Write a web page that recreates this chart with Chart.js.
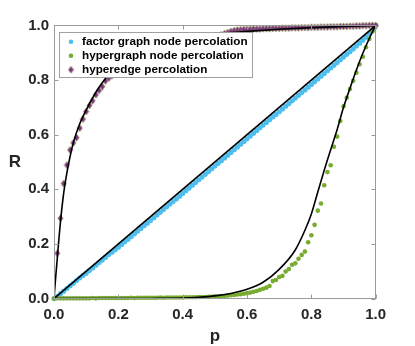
<!DOCTYPE html>
<html>
<head>
<meta charset="utf-8">
<script src="https://cdn.jsdelivr.net/npm/chart.js@4.4.1/dist/chart.umd.min.js"></script>
<style>
  html, body { margin: 0; padding: 0; background: #ffffff; }
</style>
</head>
<body>
<canvas id="chart" width="415" height="346"></canvas>
<script>
// sampled occupation probabilities
const pGrid = [
  0.00, 0.01, 0.02, 0.03, 0.04, 0.05, 0.06, 0.07, 0.08, 0.09,
  0.10, 0.11, 0.12, 0.13, 0.14, 0.15, 0.16, 0.17, 0.18, 0.19,
  0.20, 0.21, 0.22, 0.23, 0.24, 0.25, 0.26, 0.27, 0.28, 0.29,
  0.30, 0.31, 0.32, 0.33, 0.34, 0.35, 0.36, 0.37, 0.38, 0.39,
  0.40, 0.41, 0.42, 0.43, 0.44, 0.45, 0.46, 0.47, 0.48, 0.49,
  0.50, 0.51, 0.52, 0.53, 0.54, 0.55, 0.56, 0.57, 0.58, 0.59,
  0.60, 0.61, 0.62, 0.63, 0.64, 0.65, 0.66, 0.67, 0.68, 0.69,
  0.70, 0.71, 0.72, 0.73, 0.74, 0.75, 0.76, 0.77, 0.78, 0.79,
  0.80, 0.81, 0.82, 0.83, 0.84, 0.85, 0.86, 0.87, 0.88, 0.89,
  0.90, 0.91, 0.92, 0.93, 0.94, 0.95, 0.96, 0.97, 0.98, 0.99, 1.00
];

const factorGraphR = [
  0.000, 0.008, 0.018, 0.027, 0.037, 0.047, 0.056, 0.066, 0.076, 0.085,
  0.093, 0.103, 0.112, 0.122, 0.132, 0.141, 0.151, 0.161, 0.170, 0.179,
  0.188, 0.198, 0.208, 0.217, 0.227, 0.237, 0.247, 0.257, 0.267, 0.276,
  0.286, 0.296, 0.306, 0.316, 0.326, 0.336, 0.346, 0.355, 0.365, 0.375,
  0.385, 0.395, 0.405, 0.415, 0.425, 0.435, 0.445, 0.455, 0.465, 0.475,
  0.485, 0.495, 0.505, 0.515, 0.525, 0.535, 0.545, 0.555, 0.565, 0.575,
  0.585, 0.595, 0.605, 0.615, 0.625, 0.635, 0.645, 0.655, 0.665, 0.674,
  0.684, 0.694, 0.704, 0.714, 0.724, 0.734, 0.744, 0.754, 0.764, 0.774,
  0.784, 0.794, 0.804, 0.814, 0.824, 0.834, 0.844, 0.854, 0.864, 0.874,
  0.884, 0.894, 0.904, 0.914, 0.925, 0.935, 0.946, 0.957, 0.969, 0.982, 1.000
];

const hypergraphNodeR = [
  0.000, 0.001, 0.001, 0.001, 0.001, 0.001, 0.001, 0.001, 0.001, 0.001,
  0.001, 0.001, 0.002, 0.001, 0.002, 0.002, 0.002, 0.002, 0.002, 0.002,
  0.002, 0.002, 0.002, 0.002, 0.003, 0.002, 0.003, 0.003, 0.003, 0.003,
  0.003, 0.003, 0.003, 0.004, 0.003, 0.004, 0.004, 0.004, 0.004, 0.004,
  0.004, 0.005, 0.005, 0.005, 0.005, 0.006, 0.006, 0.006, 0.007, 0.007,
  0.008, 0.008, 0.009, 0.010, 0.011, 0.012, 0.013, 0.015, 0.016, 0.018,
  0.020, 0.022, 0.025, 0.028, 0.032, 0.036, 0.040, 0.046, 0.064, 0.068,
  0.079, 0.083, 0.099, 0.108, 0.124, 0.129, 0.146, 0.160, 0.172, 0.206,
  0.232, 0.270, 0.322, 0.348, 0.415, 0.463, 0.488, 0.556, 0.593, 0.650,
  0.704, 0.735, 0.767, 0.797, 0.827, 0.858, 0.885, 0.920, 0.950, 0.978, 1.000
];

const hyperedgeR = [
  null,  0.166, 0.294, 0.421, 0.489, 0.544, 0.570, 0.589, 0.624, 0.657,
  0.685, 0.707, 0.724, 0.746, 0.762, 0.776, 0.797, 0.807, 0.816, 0.825,
  0.833, 0.841, 0.849, 0.856, 0.863, 0.870, 0.876, 0.882, 0.888, 0.893,
  0.897, 0.901, 0.905, 0.909, 0.913, 0.917, 0.921, 0.925, 0.928, 0.932,
  0.935, 0.938, 0.941, 0.944, 0.947, 0.950, 0.953, 0.955, 0.957, 0.959,
  0.961, 0.963, 0.966, 0.970, 0.974, 0.978, 0.981, 0.983, 0.984, 0.985,
  0.986, 0.986, 0.987, 0.987, 0.987, 0.988, 0.988, 0.988, 0.989, 0.989,
  0.989, 0.990, 0.990, 0.990, 0.991, 0.991, 0.991, 0.992, 0.992, 0.992,
  0.993, 0.993, 0.993, 0.994, 0.994, 0.994, 0.995, 0.995, 0.995, 0.996,
  0.996, 0.996, 0.997, 0.997, 0.998, 0.998, 0.999, 0.999, 1.000, 1.000, 1.000
];

// theory curves (black lines)
const factorTheoryP = [0, 1];
const factorTheoryR = [0, 1];

const nodeTheoryP = [0, 0.2, 0.3, 0.4, 0.45, 0.5, 0.55, 0.6, 0.65, 0.7, 0.75, 0.78,
  0.8, 0.82, 0.84, 0.86, 0.88, 0.9, 0.92, 0.94, 0.96, 0.98, 1.0];
const nodeTheoryR = [0, 0, 0.0005, 0.002, 0.005, 0.01, 0.019, 0.034, 0.06, 0.107, 0.178, 0.25,
  0.31, 0.39, 0.47, 0.545, 0.618, 0.7, 0.77, 0.837, 0.898, 0.952, 1.0];

const edgeTheoryP = [0, 0.002, 0.005, 0.01, 0.015, 0.02, 0.03, 0.04, 0.05, 0.06, 0.08,
  0.10, 0.12, 0.15, 0.20, 0.25, 0.30, 0.40, 0.50, 0.60, 0.70, 0.80, 0.90, 1.00];
const edgeTheoryR = [0, 0.03, 0.075, 0.145, 0.215, 0.28, 0.385, 0.46, 0.52, 0.57, 0.64,
  0.69, 0.735, 0.79, 0.855, 0.89, 0.915, 0.948, 0.968, 0.978, 0.986, 0.992, 0.996, 1.0];

const tickLabels = ['0.0', '0.2', '0.4', '0.6', '0.8', '1.0'];
const seriesNames = ['factor graph node percolation', 'hypergraph node percolation', 'hyperedge percolation'];

const FONT = '"Liberation Sans", Arial, Helvetica, sans-serif';
const BLUE = '#4DBEEE';
const GREEN = '#77AC30';
const PURPLE = '#7E2F8E';

function pairs(xs, ys) {
  const out = [];
  xs.forEach((x, i) => { if (ys[i] !== null) out.push({ x: x, y: ys[i] }); });
  return out;
}

// MATLAB-like diamond marker
function diamond() {
  const c = document.createElement('canvas');
  c.width = 7; c.height = 9;
  const g = c.getContext('2d');
  g.beginPath();
  g.moveTo(3.5, 1); g.lineTo(6, 4.5); g.lineTo(3.5, 8); g.lineTo(1, 4.5); g.closePath();
  g.fillStyle = PURPLE; g.fill();
  g.strokeStyle = '#8e8c50'; g.lineWidth = 0.8; g.stroke();
  return c;
}
const diamondImg = diamond();

function theoryLine(xs, ys) {
  return {
    data: pairs(xs, ys), showLine: true, borderColor: '#000000', borderWidth: 1.6,
    pointRadius: 0, cubicInterpolationMode: 'monotone', order: 0
  };
}

const framePlugin = {
  id: 'frame',
  afterDraw(chart) {
    const { ctx, chartArea: a, scales } = chart;
    const L = Math.round(a.left) + 0.5, R = Math.round(a.right) - 0.5;
    const T = Math.round(a.top) + 0.5, B = Math.round(a.bottom) - 0.5;
    ctx.save();
    ctx.strokeStyle = '#9a9a9a';
    ctx.lineWidth = 1;
    ctx.strokeRect(L, T, R - L, B - T);
    ctx.beginPath();
    scales.x.ticks.forEach(t => {
      const px = Math.round(scales.x.getPixelForValue(t.value)) + 0.5;
      ctx.moveTo(px, B); ctx.lineTo(px, B - 4);
      ctx.moveTo(px, T); ctx.lineTo(px, T + 4);
    });
    scales.y.ticks.forEach(t => {
      const py = Math.round(scales.y.getPixelForValue(t.value)) + 0.5;
      ctx.moveTo(L, py); ctx.lineTo(L + 4, py);
      ctx.moveTo(R, py); ctx.lineTo(R - 4, py);
    });
    ctx.stroke();

    // axis titles
    ctx.fillStyle = '#262626';
    ctx.font = 'bold 17px ' + FONT;
    ctx.textAlign = 'center';
    ctx.textBaseline = 'alphabetic';
    ctx.fillText('p', (a.left + a.right) / 2, 341);
    ctx.fillText('R', 15, 167);

    // legend box inside the axes
    const bx = 59.5, by = 32.5, bw = 193, bh = 45;
    ctx.fillStyle = '#ffffff';
    ctx.fillRect(bx, by, bw, bh);
    ctx.strokeStyle = '#a0a0a0';
    ctx.strokeRect(bx, by, bw, bh);
    const rows = [41.7, 55.7, 69.7];
    ctx.font = 'bold 11.7px ' + FONT;
    ctx.textAlign = 'left';
    ctx.textBaseline = 'middle';
    seriesNames.forEach((name, i) => {
      const y = rows[i];
      if (i < 2) {
        ctx.fillStyle = i === 0 ? BLUE : GREEN;
        ctx.beginPath(); ctx.arc(71, y, 2.3, 0, Math.PI * 2); ctx.fill();
      } else {
        ctx.drawImage(diamondImg, 67.5, y - 4.5);
      }
      ctx.fillStyle = '#000000';
      ctx.fillText(name, 82, y + 0.5);
    });
    ctx.restore();
  }
};

const tickFont = { family: FONT, size: 15, weight: 'bold' };

new Chart(document.getElementById('chart'), {
  type: 'scatter',
  data: {
    datasets: [
      theoryLine(factorTheoryP, factorTheoryR),
      theoryLine(nodeTheoryP, nodeTheoryR),
      theoryLine(edgeTheoryP, edgeTheoryR),
      { label: seriesNames[0], data: pairs(pGrid, factorGraphR), backgroundColor: BLUE,
        borderWidth: 0, pointRadius: 2.6, clip: false, order: 3 },
      { label: seriesNames[1], data: pairs(pGrid, hypergraphNodeR), backgroundColor: GREEN,
        borderWidth: 0, pointRadius: 2.3, clip: false, order: 2 },
      { label: seriesNames[2], data: pairs(pGrid, hyperedgeR), pointStyle: diamondImg,
        pointRadius: 4, clip: false, order: 1 }
    ]
  },
  options: {
    responsive: false,
    animation: false,
    devicePixelRatio: 1,
    layout: { padding: { left: 0, right: 39.3, top: 25.4, bottom: 0 } },
    plugins: { legend: { display: false }, tooltip: { enabled: false } },
    scales: {
      x: {
        type: 'linear', min: 0, max: 1,
        ticks: { stepSize: 0.2, callback: (v, i) => tickLabels[i], font: tickFont,
          color: '#262626', padding: 7, maxRotation: 0 },
        grid: { display: false, drawTicks: false },
        border: { display: false },
        afterFit: s => { s.height = 47.4; }
      },
      y: {
        type: 'linear', min: 0, max: 1,
        ticks: { stepSize: 0.2, callback: (v, i) => tickLabels[i], font: tickFont,
          color: '#262626', padding: 5 },
        grid: { display: false, drawTicks: false },
        border: { display: false },
        afterFit: s => { s.width = 54; }
      }
    }
  },
  plugins: [framePlugin]
});
</script>
</body>
</html>
